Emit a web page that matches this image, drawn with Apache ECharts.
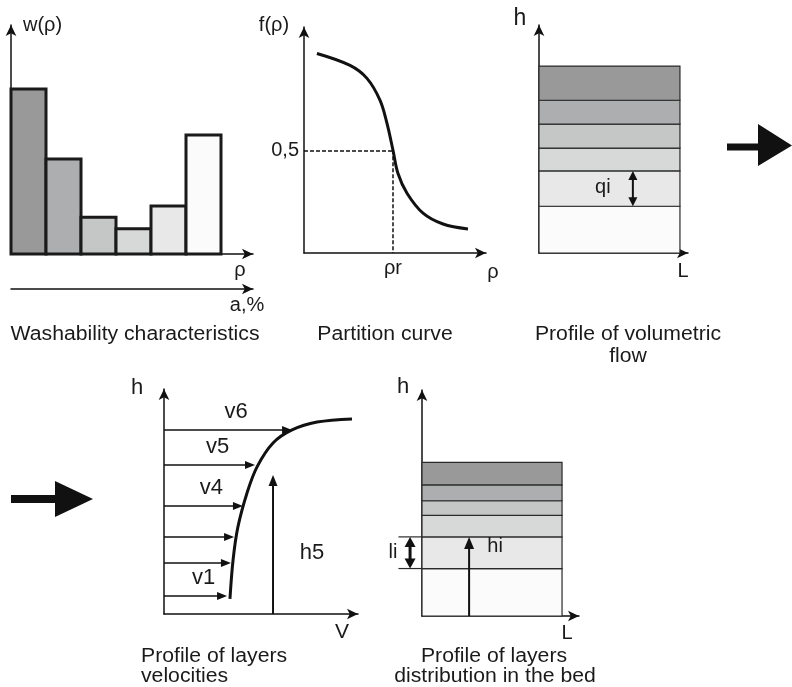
<!DOCTYPE html>
<html><head><meta charset="utf-8">
<script src="https://cdn.jsdelivr.net/npm/echarts@6/dist/echarts.min.js"></script>
<style>html,body{margin:0;padding:0;background:#fff}#c{width:792px;height:687px}</style>
</head><body><div id="c"></div>
<script>
// ---------- DATA ----------
// Panel 1: washability histogram (w(rho) per density fraction)
const washValues = [72, 41.5, 16, 11, 21, 52];
const layerColors = ['#999999', '#adaeb0', '#c5c7c6', '#d7d9d8', '#e8e8e8', '#fbfbfb']; // dense -> light
// Panel 2: partition curve
const partRho = [0.71, 2.53, 3.46, 4.18, 4.56, 4.89, 5.16, 5.66, 6.54, 7.64, 9.01];
const partF   = [0.971, 0.913, 0.850, 0.743, 0.631, 0.5, 0.388, 0.291, 0.194, 0.141, 0.117];
const rhoR = 4.89;
const fHalf = 0.5;
// Panel 3: volumetric flow, layer thickness q (bottom -> top)
const flowQ = [2.05, 1.55, 1.0, 1.05, 1.05, 1.5];
const flowLength = 9.46;
const qiLayer = 1, qiPos = 6.3;
// Panel 4: velocity profile
const velCurveV = [3.40, 3.56, 3.81, 4.28, 4.79, 5.62, 6.60, 7.89, 9.69];
const velCurveH = [0.67, 2.40, 3.87, 5.38, 6.53, 7.60, 8.18, 8.53, 8.67];
const layerH = [0.80, 2.27, 3.42, 4.80, 6.62, 8.18];
const layerV = [3.25, 3.45, 3.61, 4.07, 4.69, 6.60];
const layerNames = ['v1', '', '', 'v4', 'v5', 'v6'];
const h5V = 5.62, h5Top = 6.18;
// Panel 5: layer distribution in bed, thickness l (bottom -> top)
const bedL = [2.1, 1.4, 0.95, 0.65, 0.7, 1.0];
const bedLength = 8.92;
const liLayer = 1, liPos = -0.76, liTick = -1.5, hiPos = 3.0;

// ---------- HELPERS ----------
const INK = '#111';
const FONT = '"Liberation Sans", Arial, sans-serif';
function f(size) { return size + 'px ' + FONT; }
function ax(gridIndex, min, max, extra) {
  return Object.assign({
    type: 'value', gridIndex, min, max,
    axisLine: { show: true, onZero: false, symbol: ['none', 'arrow'], symbolSize: [8, 11],
      lineStyle: { color: INK, width: 1.5 } },
    axisTick: { show: false }, axisLabel: { show: false }, splitLine: { show: false }
  }, extra || {});
}
function cumulate(arr) {
  let s = 0; return arr.map((t, i) => { const b = s; s += t; return [b, s, i]; });
}
function layerSeries(xi, yi, thick, len) {
  return {
    type: 'custom', xAxisIndex: xi, yAxisIndex: yi, clip: false, z: 3,
    data: cumulate(thick),
    renderItem(params, api) {
      const b = api.value(0), t = api.value(1), i = api.value(2);
      const p0 = api.coord([0, t]), p1 = api.coord([len, b]);
      return { type: 'rect', shape: { x: p0[0], y: p0[1], width: p1[0] - p0[0], height: p1[1] - p0[1] },
        style: { fill: layerColors[layerColors.length - 1 - i], stroke: '#2a2a2a', lineWidth: 1.2 } };
    }
  };
}
function arrowShapes(a, b, opt) {
  const dx = b[0] - a[0], dy = b[1] - a[1], L = Math.hypot(dx, dy);
  const ux = dx / L, uy = dy / L, nx = -uy, ny = ux;
  const hl = opt.hl, hw = opt.hw;
  const out = [];
  const s = opt.both ? [a[0] + ux * hl * 0.8, a[1] + uy * hl * 0.8] : a;
  const e = [b[0] - ux * hl * 0.8, b[1] - uy * hl * 0.8];
  out.push({ type: 'line', shape: { x1: s[0], y1: s[1], x2: e[0], y2: e[1] }, style: { stroke: INK, lineWidth: opt.lw } });
  const head = (tip, dir) => ({ type: 'polygon', shape: { points: [tip,
    [tip[0] - dir * ux * hl + nx * hw / 2, tip[1] - dir * uy * hl + ny * hw / 2],
    [tip[0] - dir * ux * hl - nx * hw / 2, tip[1] - dir * uy * hl - ny * hw / 2]] }, style: { fill: INK } });
  out.push(head(b, 1));
  if (opt.both) out.push(head(a, -1));
  return out;
}
function arrowSeries(xi, yi, data, opt, labelFn) {
  return {
    type: 'custom', xAxisIndex: xi, yAxisIndex: yi, clip: false, z: 5, data,
    renderItem(params, api) {
      const a = api.coord([api.value(0), api.value(1)]);
      const b = api.coord([api.value(2), api.value(3)]);
      const children = arrowShapes(a, b, opt);
      if (labelFn) {
        const l = labelFn(params.dataIndex, a, b);
        if (l) children.push({ type: 'text', style: Object.assign({ fill: '#1a1a1a', font: f(20),
          align: 'center', verticalAlign: 'middle' }, l) });
      }
      return { type: 'group', children };
    }
  };
}
function txt(text, x, y, size, align, sx) {
  return { type: 'text', x, y, z: 20, scaleX: sx || 1, style: { text, fill: '#1a1a1a', font: f(size || 20),
    align: align || 'center', verticalAlign: 'middle' } };
}

// ---------- OPTION ----------
const bedCum = cumulate(bedL);
const flowCum = cumulate(flowQ);
const TS = 1.06; // title width factor

const option = {
  backgroundColor: '#fff',
  animation: false,
  grid: [
    { left: 11, top: 25, width: 242, height: 229 },
    { left: 304, top: 27, width: 182, height: 226 },
    { left: 539, top: 25, width: 149, height: 228 },
    { left: 164, top: 389, width: 194, height: 225 },
    { left: 422, top: 390, width: 157, height: 226 }
  ],
  xAxis: [
    ax(0, 0, 242 / 35),
    ax(0, 0, 1, { position: 'bottom', offset: 35 }),
    ax(1, 0, 10),
    ax(2, 0, 10),
    ax(3, 0, 10),
    ax(4, 0, 10)
  ],
  yAxis: [
    ax(0, 0, 100),
    ax(1, 0, 1.1, { interval: 0.5, axisLabel: { show: true, margin: 5, color: '#1a1a1a', fontSize: 20,
      fontFamily: FONT, formatter: v => (v === fHalf ? '0,5' : '') } }),
    ax(2, 0, 10),
    ax(3, 0, 10),
    ax(4, 0, 10)
  ],
  series: [
    // Panel 1 histogram
    {
      type: 'custom', xAxisIndex: 0, yAxisIndex: 0, z: 3, clip: false,
      data: washValues.map((v, i) => [i, v]),
      renderItem(params, api) {
        const i = api.value(0), v = api.value(1);
        const p0 = api.coord([i, v]), p1 = api.coord([i + 1, 0]);
        return { type: 'rect', shape: { x: p0[0], y: p0[1], width: p1[0] - p0[0], height: p1[1] - p0[1] },
          style: { fill: layerColors[i], stroke: '#1a1a1a', lineWidth: 3 } };
      }
    },
    // Panel 2 partition curve
    {
      type: 'line', xAxisIndex: 2, yAxisIndex: 1, smooth: 0.35, symbol: 'none', z: 4,
      lineStyle: { color: INK, width: 3 },
      data: partRho.map((r, i) => [r, partF[i]]),
      markLine: {
        silent: true, symbol: 'none', animation: false,
        lineStyle: { color: INK, width: 1.5, type: [4, 2] },
        data: [
          [{ coord: [0, fHalf], label: { show: false } }, { coord: [rhoR, fHalf] }],
          [{ coord: [rhoR, fHalf], label: { show: true, position: 'end', formatter: 'ρr', distance: 5,
            color: '#1a1a1a', fontSize: 20, fontFamily: FONT } }, { coord: [rhoR, 0] }]
        ]
      }
    },
    // Panel 3 layers
    layerSeries(3, 2, flowQ, flowLength),
    arrowSeries(3, 2, [[qiPos, flowCum[qiLayer][0], qiPos, flowCum[qiLayer][1]]],
      { hl: 9, hw: 9, lw: 2, both: true },
      (i, a, b) => ({ text: 'qi', x: a[0] - 30, y: (a[1] + b[1]) / 2 - 1 })),
    // Panel 4 velocity curve
    {
      type: 'line', xAxisIndex: 4, yAxisIndex: 3, smooth: 0.35, symbol: 'none', z: 4,
      lineStyle: { color: INK, width: 3 },
      data: velCurveV.map((v, i) => [v, velCurveH[i]])
    },
    arrowSeries(4, 3, layerH.map((h, i) => [0, h, layerV[i], h]),
      { hl: 10, hw: 8, lw: 1.5 },
      (i, a, b) => layerNames[i] ? { text: layerNames[i], x: (a[0] + b[0]) / 2 + 8, y: a[1] - 18, font: f(22) } : null),
    arrowSeries(4, 3, [[h5V, 0, h5V, h5Top]], { hl: 11, hw: 9, lw: 2 },
      (i, a, b) => ({ text: 'h5', x: a[0] + 39, y: a[1] - 61, font: f(22) })),
    // Panel 5 layers
    layerSeries(5, 4, bedL, bedLength),
    {
      type: 'custom', xAxisIndex: 5, yAxisIndex: 4, clip: false, z: 4,
      data: [[liTick, bedCum[liLayer][0]], [liTick, bedCum[liLayer][1]]],
      renderItem(params, api) {
        const a = api.coord([api.value(0), api.value(1)]), b = api.coord([0, api.value(1)]);
        return { type: 'line', shape: { x1: a[0], y1: a[1], x2: b[0], y2: b[1] }, style: { stroke: '#2a2a2a', lineWidth: 1.2 } };
      }
    },
    arrowSeries(5, 4, [[liPos, bedCum[liLayer][0], liPos, bedCum[liLayer][1]]],
      { hl: 10, hw: 11, lw: 3, both: true },
      (i, a, b) => ({ text: 'li', x: a[0] - 17, y: (a[1] + b[1]) / 2 })),
    arrowSeries(5, 4, [[hiPos, 0, hiPos, bedCum[liLayer][1]]], { hl: 12, hw: 10, lw: 2 },
      (i, a, b) => ({ text: 'hi', x: a[0] + 26, y: b[1] + 10 }))
  ],
  graphic: [
    txt('w(ρ)', 23, 25, 20, 'left'),
    txt('ρ', 240, 270, 20),
    txt('a,%', 247, 305, 20),
    txt('Washability characteristics', 135, 334, 20, 'center', TS),
    txt('f(ρ)', 274, 25, 20),
    txt('ρ', 493, 272, 20),
    txt('Partition curve', 385, 334, 20, 'center', TS),
    txt('h', 520, 19, 23),
    txt('L', 683, 271, 20),
    txt('Profile of volumetric', 628, 334, 20, 'center', TS),
    txt('flow', 628, 356, 20, 'center', TS),
    txt('h', 137, 388, 22),
    txt('V', 342, 632, 21),
    txt('Profile of layers', 141, 656, 20, 'left', TS),
    txt('velocities', 141, 676, 20, 'left', TS),
    txt('h', 403, 387, 22),
    txt('L', 567, 633, 20),
    txt('Profile of layers', 494, 656, 20, 'center', TS),
    txt('distribution in the bed', 495, 676, 20, 'center', TS),
    { type: 'polygon', z: 20, shape: { points: [[727, 143.5], [758, 143.5], [758, 124], [792, 145.5], [758, 166], [758, 150.5], [727, 150.5]] }, style: { fill: INK } },
    { type: 'polygon', z: 20, shape: { points: [[11, 495], [55, 495], [55, 481], [93, 499], [55, 517], [55, 503], [11, 503]] }, style: { fill: INK } }
  ]
};
const chart = echarts.init(document.getElementById('c'));
chart.setOption(option);
</script>
</body></html>
